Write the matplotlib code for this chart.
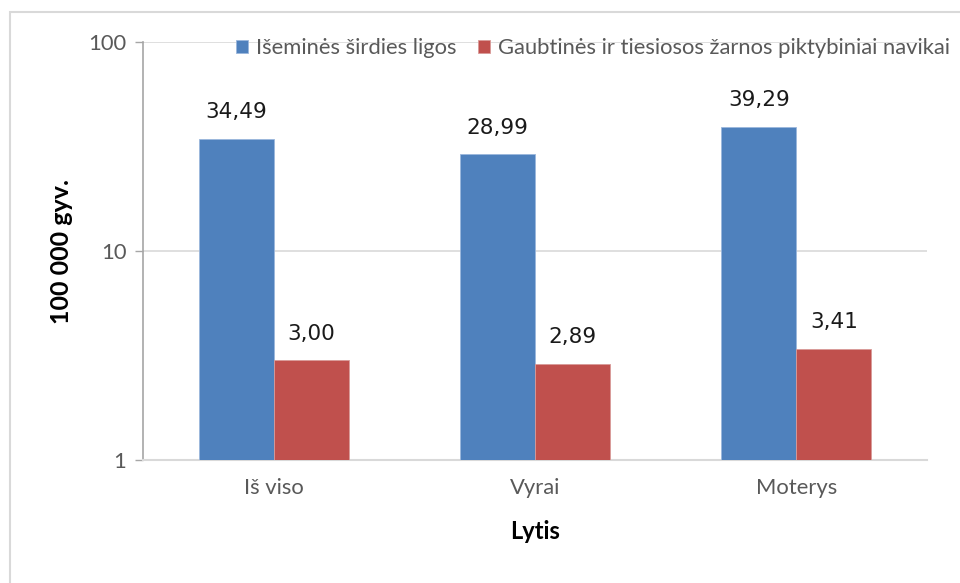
import matplotlib
matplotlib.use("Agg")
import matplotlib.pyplot as plt
from matplotlib.patches import Rectangle
import numpy as np

categories = ["Iš viso", "Vyrai", "Moterys"]
series_names = ["Išeminės širdies ligos", "Gaubtinės ir tiesiosos žarnos piktybiniai navikai"]
ischemic = [34.49, 28.99, 39.29]
colorectal = [3.00, 2.89, 3.41]
y_ticks = [1, 10, 100]
y_label = "100 000 gyv."
x_label = "Lytis"

blue = "#4F81BD"
red = "#C0504D"
gray_text = "#595959"

fig = plt.figure(figsize=(9.6, 5.83), dpi=100)
ax = fig.add_axes([143/960, 1-460/583, (927-143)/960, (460-42)/583])

x = np.arange(len(categories))
w = 0.287
b1 = ax.bar(x - w/2, ischemic, w, color=blue, edgecolor="#9bb7dc", linewidth=0.6, zorder=3, label=series_names[0])
b2 = ax.bar(x + w/2, colorectal, w, color=red, edgecolor="#d99a98", linewidth=0.6, zorder=3, label=series_names[1])

ax.set_yscale("log")
ax.set_ylim(1, 100)
ax.set_xlim(-0.5, 2.5)
ax.set_yticks(y_ticks)
ax.set_yticklabels([str(t) for t in y_ticks])
ax.yaxis.set_minor_locator(matplotlib.ticker.NullLocator())
ax.set_xticks(x)
ax.set_xticklabels(categories)

for lab in ax.get_yticklabels() + ax.get_xticklabels():
    lab.set_fontfamily("Lato")
    lab.set_fontsize(15.8)
    lab.set_color(gray_text)

ax.tick_params(axis="y", length=6, width=1, color="#a6a6a6", pad=6, direction="out")
ax.tick_params(axis="x", length=0, pad=13)

for s in ["top", "right"]:
    ax.spines[s].set_visible(False)
ax.spines["left"].set_color("#a6a6a6")
ax.spines["left"].set_linewidth(1.2)
ax.spines["bottom"].set_color("#d9d9d9")
ax.spines["bottom"].set_linewidth(1.5)

ax.yaxis.grid(True, color="#d9d9d9", linewidth=1.2, zorder=0)
ax.set_axisbelow(True)

for bars, vals in ((b1, ischemic), (b2, colorectal)):
    for rect, v in zip(bars, vals):
        ax.annotate(f"{v:.2f}".replace(".", ","),
                    (rect.get_x() + rect.get_width()/2, v),
                    xytext=(0, 12), textcoords="offset points",
                    ha="center", va="bottom", fontsize=15.5,
                    family="DejaVu Sans", color="#1a1a1a")

ax.set_ylabel(y_label, fontsize=18, fontweight="bold", family="Lato", color="black")
ax.yaxis.set_label_coords((73-143)/784, 0.5)
ax.set_xlabel(x_label, fontsize=17, fontweight="bold", family="Lato", color="black")
ax.xaxis.set_label_coords(0.5, (460-520)/418)

leg = fig.legend(handles=[b1, b2], labels=series_names, loc="center left",
                 bbox_to_anchor=(236/960, 1-48/583), ncol=2, frameon=False,
                 prop={"family": "Lato", "size": 15.8}, handlelength=0.55, handleheight=0.55,
                 handletextpad=0.35, columnspacing=1.0, borderaxespad=0, borderpad=0)
for t in leg.get_texts():
    t.set_color(gray_text)

fig.patches.append(Rectangle((10/960, -0.1), 1.2, (583-12)/583 + 0.1,
                             transform=fig.transFigure, fill=False,
                             edgecolor="#d9d9d9", linewidth=1.5, clip_on=False))

fig.savefig("out.png", dpi=100, facecolor="white")
